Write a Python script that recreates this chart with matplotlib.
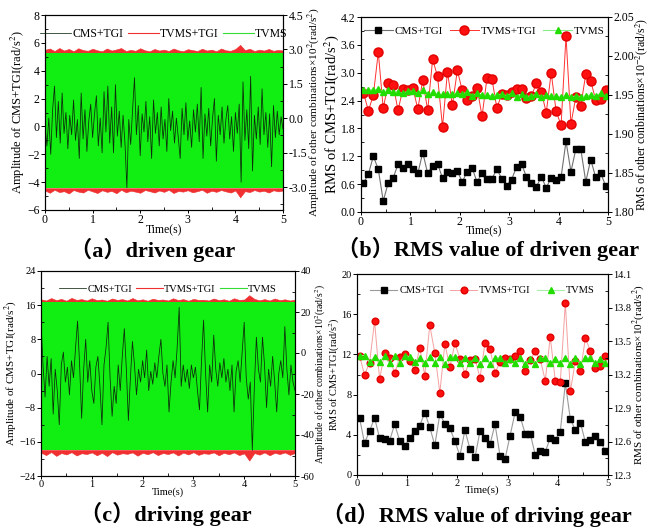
import matplotlib
matplotlib.use("Agg")
import matplotlib.pyplot as plt
import numpy as np
from matplotlib.lines import Line2D
from matplotlib.ticker import FormatStrFormatter, MultipleLocator

plt.rcParams["font.family"] = ["Liberation Serif", "Noto Sans CJK SC"]
plt.rcParams["mathtext.fontset"] = "stix"

W, H = 654, 528

# ---- (a) driven gear, time signal ----
black_a = [0.0, -1.4, 0.6, -2.0, 1.2, 2.9, -0.8, 1.8, -1.2, 2.4, -0.5, 1.0, -1.6, 0.8,
           -0.6, 1.9, -1.0, 0.5, -2.3, 2.4, -0.9, 1.2, -1.8, 0.4, 1.6, -0.8, 0.9, 2.2,
           -1.4, 0.6, -1.9, 2.5, -0.4, 2.9, -1.2, 1.4, -1.9, 3.0, -0.7, 1.1, -1.5, 0.8,
           -1.2, -4.4, 0.5, -1.3, 1.2, 3.5, -0.6, 1.5, -2.1, 0.9, -0.4, 1.8, -1.1, 0.7,
           -2.3, 1.9, -0.5, 1.0, -1.4, 1.4, -0.9, 0.5, -1.8, 2.0, -0.3, 1.1, -1.2, 0.6,
           -0.8, -2.3, 1.3, -0.6, 1.7, -1.0, 0.4, -1.5, 1.2, -0.4, 1.6, -1.1, 2.8, -2.3,
           0.9, -0.7, 1.3, -1.4, 0.6, 2.0, -2.5, 0.8, -0.6, 1.4, -1.2, 0.5, 1.5, -0.9,
           0.7, -1.8, 1.0, -0.5, 1.6, -4.0, 3.2, -1.0, 1.2, -1.6, 3.6, -3.2, 0.8, -0.9,
           1.4, -1.3, 2.7, -0.6, 1.0, -1.5, 0.9, -2.9, 1.5, -0.8, 1.1, -0.6, 0.7, -0.2]
green_band_a = [2.85, -3.05]
red_top_a = [2.98, 3.04, 2.93, 3.06, 2.95, 3.02, 2.92, 3.05, 2.97, 2.94, 3.03, 2.96, 2.92,
             3.04, 2.95, 3.00, 3.06, 2.93, 2.98, 2.94, 3.05, 2.96, 2.92, 3.02, 2.95, 2.99,
             2.93, 3.04, 2.96, 2.92, 3.01, 2.97, 2.93, 3.03, 2.95, 2.99, 2.92, 3.04, 2.96,
             2.94, 3.02, 3.20, 2.97, 3.03, 2.93, 2.99, 2.95, 3.02, 2.94, 2.98, 2.95]
red_bot_a = [-3.15, -3.25, -3.12, -3.22, -3.18, -3.28, -3.13, -3.20, -3.24, -3.12, -3.19,
             -3.26, -3.14, -3.21, -3.17, -3.27, -3.12, -3.23, -3.16, -3.20, -3.25, -3.13,
             -3.18, -3.24, -3.15, -3.21, -3.12, -3.26, -3.17, -3.20, -3.14, -3.23, -3.18,
             -3.12, -3.25, -3.16, -3.21, -3.13, -3.19, -3.24, -3.15, -3.45, -3.18, -3.22,
             -3.13, -3.20, -3.16, -3.24, -3.14, -3.19, -3.15]

# ---- (c) driving gear, time signal ----
black_c = [12.0, 2.0, -5.5, 4.0, -3.0, 3.5, -9.5, 1.0, -4.0, -12.0, 2.0, 5.0, -2.0, 1.5,
           -5.0, 3.0, -1.0, 6.0, 12.3, 2.0, -10.5, 1.0, 8.0, -2.0, 3.0, -4.0, -7.0, 1.5,
           4.0, -3.0, -12.0, 2.0, 6.0, 12.0, -1.0, -10.0, -3.0, -7.0, 2.0, -4.0, 4.0, 10.5,
           1.0, -11.0, -1.0, 7.5, 2.0, -5.0, 1.0, -2.0, 3.0, -1.0, 5.5, -4.0, 0.5, -2.5,
           2.5, -1.0, 4.0, 8.0, 0.0, -3.0, 2.0, -9.0, -2.0, 3.0, -1.0, 6.0, 15.5, -3.0,
           2.0, -2.0, 1.0, -3.5, 2.0, -1.0, 1.5, -4.0, -8.5, 3.0, 12.5, 0.0, -9.0, 2.0,
           -2.0, 9.0, 1.0, -3.0, 2.5, -1.0, 3.5, -2.0, 1.0, -4.0, 2.0, -9.0, 0.5, 3.0,
           -2.0, 5.0, 12.0, -1.0, -6.0, -2.0, -18.0, -3.0, 8.5, 1.0, -2.0, 8.5, 2.0, -8.0,
           1.0, -3.0, 4.0, -2.0, -9.0, 0.0, 3.0, -1.0, 11.0, 1.0, -5.0, 2.0, -2.0, -4.0]
green_band_c = [24.8, -47.3]
red_top_c = [26.2, 25.6, 26.8, 25.8, 26.4, 25.5, 26.9, 25.9, 26.3, 25.6, 26.7, 25.8, 26.1,
             25.5, 26.6, 25.9, 26.3, 25.6, 26.8, 25.7, 26.2, 25.5, 26.5, 25.9, 26.1, 25.6,
             26.7, 25.8, 26.3, 25.5, 26.4, 25.9, 26.0, 25.6, 26.6, 25.8, 26.2, 25.5, 26.7,
             25.9, 26.1, 28.2, 26.4, 25.7, 26.3, 25.6, 26.6, 25.8, 26.2, 25.6, 26.0]
red_bot_c = [-48.6, -49.8, -48.3, -50.2, -48.8, -49.5, -48.4, -50.0, -48.9, -49.3, -48.5,
             -49.9, -48.7, -50.3, -48.4, -49.6, -48.9, -49.2, -48.5, -50.1, -48.7, -49.4,
             -48.4, -49.8, -48.8, -49.3, -48.5, -50.0, -48.6, -49.5, -48.4, -49.7, -48.9,
             -49.2, -48.5, -49.9, -48.7, -49.4, -48.5, -49.8, -49.0, -52.5, -48.8, -49.6,
             -48.5, -49.9, -48.7, -49.3, -48.5, -49.7, -48.8]

# ---- (b) RMS driven gear ----
t_rms = np.arange(0.05, 5.0, 0.1)
rms_cms_b = [0.62, 0.82, 1.20, 0.92, 0.24, 0.62, 0.73, 1.03, 0.95, 1.04, 0.92, 0.83, 1.28,
             0.83, 1.00, 1.04, 0.73, 0.87, 0.83, 0.88, 0.65, 0.87, 0.95, 0.64, 0.85, 0.71,
             0.72, 0.92, 0.72, 0.57, 0.70, 0.98, 1.04, 0.75, 0.62, 0.54, 0.76, 0.52, 0.74,
             0.68, 0.75, 1.52, 0.87, 1.36, 1.35, 0.65, 1.13, 0.75, 0.84, 0.57]
rms_tvms_tgi_b = [2.57, 2.18, 2.52, 3.44, 2.23, 2.77, 2.74, 2.19, 2.66, 2.63, 2.67, 2.22,
                  2.84, 2.19, 3.29, 2.92, 1.83, 3.02, 2.30, 3.05, 2.62, 2.41, 2.49, 2.68,
                  2.06, 2.88, 2.87, 2.24, 2.54, 2.52, 2.59, 2.66, 2.64, 2.45, 2.49, 2.78,
                  2.59, 2.14, 3.00, 2.17, 1.87, 3.79, 1.90, 2.48, 2.29, 2.97, 2.82, 2.42,
                  2.43, 2.62]
rms_tvms_b = [1.956, 1.957, 1.956, 1.958, 1.954, 1.956, 1.954, 1.954, 1.952, 1.955, 1.955,
              1.952, 1.956, 1.951, 1.954, 1.951, 1.951, 1.951, 1.951, 1.952, 1.951, 1.954,
              1.949, 1.952, 1.950, 1.950, 1.949, 1.950, 1.951, 1.949, 1.952, 1.948, 1.951,
              1.948, 1.949, 1.951, 1.948, 1.950, 1.949, 1.949, 1.947, 1.950, 1.947, 1.949,
              1.948, 1.949, 1.950, 1.949, 1.952, 1.949]

# ---- (d) RMS driving gear ----
rms_cms_d = [5.71, 3.16, 4.39, 5.68, 3.69, 3.59, 3.42, 5.05, 3.42, 2.86, 3.72, 4.42, 4.92,
             6.21, 4.75, 2.96, 6.05, 5.12, 4.65, 3.36, 1.93, 4.45, 2.62, 1.76, 4.35, 3.72,
             3.06, 5.05, 1.89, 1.63, 3.92, 6.25, 5.81, 4.12, 4.12, 2.03, 2.36, 2.33, 3.65,
             3.52, 4.32, 9.14, 5.55, 4.49, 5.22, 3.26, 3.49, 3.89, 3.32, 2.39]
rms_tvms_tgi_d = [11.86, 9.97, 11.16, 15.28, 9.53, 12.16, 11.69, 10.10, 11.73, 12.06, 11.36,
                  10.40, 12.66, 9.90, 14.92, 12.13, 8.17, 13.06, 10.70, 13.12, 11.59, 10.07,
                  11.43, 11.59, 9.67, 13.16, 12.56, 10.17, 11.23, 11.66, 11.50, 11.89, 12.29,
                  10.37, 11.43, 12.29, 11.50, 9.40, 13.72, 9.40, 9.27, 17.11, 8.31, 11.33,
                  10.33, 13.62, 12.33, 10.60, 10.80, 11.83]
rms_tvms_d = [13.37, 13.37, 13.31, 13.36, 13.31, 13.37, 13.30, 13.37, 13.30, 13.37, 13.36,
              13.31, 13.35, 13.30, 13.36, 13.30, 13.36, 13.29, 13.36, 13.36, 13.30, 13.35,
              13.30, 13.35, 13.29, 13.35, 13.29, 13.35, 13.35, 13.30, 13.34, 13.30, 13.35,
              13.29, 13.34, 13.29, 13.35, 13.35, 13.30, 13.34, 13.30, 13.35, 13.29, 13.35,
              13.29, 13.35, 13.35, 13.30, 13.34, 13.30]

series_names = ["CMS+TGI", "TVMS+TGI", "TVMS"]
captions = ["（a）driven gear", "（b）RMS value of driven gear",
            "（c）driving gear", "（d）RMS value of driving gear"]


def px_rect(left, top, right, bottom):
    return [left / W, 1 - bottom / H, (right - left) / W, (bottom - top) / H]


def style_ticks(ax, fs):
    ax.tick_params(which="major", direction="out", length=3, width=0.7,
                   labelsize=fs, pad=1)
    ax.tick_params(which="minor", direction="in", length=2, width=0.6)
    ax.tick_params(axis="x", which="major", length=2.5, pad=0.5)
    for s in ax.spines.values():
        s.set_linewidth(0.8)


def amplitude_panel(fig, rect, black, red_top, red_bot, green_band, ylim_l, step_l,
                    ylim_r, step_r, fmt_r, lab_l, lab_r, fs_tick, fs_lab, fs_lab_r,
                    pad_r, leg_y):
    ax = fig.add_axes(rect)
    ax2 = ax.twinx()
    ax.set_zorder(ax2.get_zorder() + 1)
    ax.patch.set_visible(False)

    t_top = np.linspace(0, 5, len(red_top))
    t_bot = np.linspace(0, 5, len(red_bot))
    ax2.fill_between(t_top, green_band[0], red_top, color="#f03030", lw=0.4)
    ax2.fill_between(t_bot, red_bot, green_band[1], color="#f03030", lw=0.4)
    ax2.fill_between([0, 5], green_band[1], green_band[0], color="#11ee11", lw=0)

    t = np.linspace(0, 5, len(black))
    hb, = ax.plot(t, black, color="#0d2a0d", lw=0.55)

    ax.set_xlim(0, 5)
    ax.set_ylim(*ylim_l)
    ax.yaxis.set_major_locator(MultipleLocator(step_l))
    ax.yaxis.set_minor_locator(MultipleLocator(step_l / 2))
    ax.xaxis.set_major_locator(MultipleLocator(1))
    ax.xaxis.set_minor_locator(MultipleLocator(0.5))
    ax2.set_ylim(*ylim_r)
    ax2.yaxis.set_major_locator(MultipleLocator(step_r))
    ax2.yaxis.set_minor_locator(MultipleLocator(step_r / 2))
    ax2.yaxis.set_major_formatter(FormatStrFormatter(fmt_r))
    style_ticks(ax, fs_tick)
    style_ticks(ax2, fs_tick)

    ax.set_xlabel("Time(s)", fontsize=fs_lab - 0.5, labelpad=-1.5)
    ax.set_ylabel(lab_l, fontsize=fs_lab, labelpad=0)
    ax2.set_ylabel(lab_r, fontsize=fs_lab_r, labelpad=pad_r)

    hr = Line2D([], [], color="#f03030", lw=0.8)
    hg = Line2D([], [], color="#33dd33", lw=0.8)
    ax.legend([hb, hr, hg], series_names, loc="upper center", bbox_to_anchor=(0.5, leg_y),
              ncol=3, frameon=False, fontsize=fs_lab - 0.5, handlelength=2.6,
              handletextpad=0.1, columnspacing=0.4, borderaxespad=0)
    return ax, ax2


def rms_panel(fig, rect, cms, tvms_tgi, tvms, ylim_l, step_l, fmt_l, ylim_r, step_r,
              fmt_r, lab_r, fs_tick, fs_lab_l, fs_lab_r, pad_l, colors, msizes, leg_y):
    ax = fig.add_axes(rect)
    ax2 = ax.twinx()
    h1, = ax.plot(t_rms, cms, color=colors[0], lw=0.8, marker="s", ms=msizes[0],
                  mfc="black", mec="black")
    h2, = ax.plot(t_rms, tvms_tgi, color=colors[1], lw=0.7, marker="o", ms=msizes[1],
                  mfc="#ff1010", mec="#e00000")
    h3, = ax2.plot(t_rms, tvms, color=colors[2], lw=0.8, marker="^", ms=msizes[2],
                   mfc="#22dd00", mec="#22dd00")

    ax.set_xlim(0, 5)
    ax.set_ylim(*ylim_l)
    ax.yaxis.set_major_locator(MultipleLocator(step_l))
    ax.yaxis.set_minor_locator(MultipleLocator(step_l / 2))
    ax.yaxis.set_major_formatter(FormatStrFormatter(fmt_l))
    ax.xaxis.set_major_locator(MultipleLocator(1))
    ax.xaxis.set_minor_locator(MultipleLocator(0.5))
    ax2.set_ylim(*ylim_r)
    ax2.yaxis.set_major_locator(MultipleLocator(step_r))
    ax2.yaxis.set_minor_locator(MultipleLocator(step_r / 2))
    ax2.yaxis.set_major_formatter(FormatStrFormatter(fmt_r))
    style_ticks(ax, fs_tick)
    style_ticks(ax2, fs_tick)

    ax.set_xlabel("Time(s)", fontsize=fs_lab_r, labelpad=-2)
    ax.set_ylabel("RMS of CMS+TGI(rad/s$^2$)", fontsize=fs_lab_l, labelpad=pad_l)
    ax2.set_ylabel(lab_r, fontsize=fs_lab_r, labelpad=-1)

    ax.legend([h1, h2, h3], series_names, loc="upper center", bbox_to_anchor=(0.5, leg_y),
              ncol=3, frameon=False, fontsize=fs_lab_r - 0.5, handlelength=2.6,
              handletextpad=0.2, columnspacing=0.6, borderaxespad=0)
    return ax, ax2


fig = plt.figure(figsize=(W / 100, H / 100), dpi=100)

amplitude_panel(fig, px_rect(45, 15, 283, 210), black_a, red_top_a, red_bot_a, green_band_a,
                (-6, 8), 2, (-4.0, 4.5), 1.5, "%.1f",
                "Amplitude of CMS+TGI(rad/s$^2$)",
                "Amplitude of other combinations×10$^2$(rad/s$^2$)",
                8.5, 9, 8.2, -1, 0.955)

rms_panel(fig, px_rect(361, 17, 608, 212), rms_cms_b, rms_tvms_tgi_b, rms_tvms_b,
          (0, 4.2), 0.6, "%.1f", (1.80, 2.05), 0.05, "%.2f",
          "RMS of other conbinations×10$^{-2}$(rad/s$^2$)",
          8.5, 10.5, 8.5, 0, ["#707070", "#ff3030", "#88ee88"], [4.3, 6.5, 5], 0.975)

amplitude_panel(fig, px_rect(41, 271, 295, 476), black_c, red_top_c, red_bot_c, green_band_c,
                (-24, 24), 8, (-60, 40), 20, "%d",
                "Amplitude of CMS+TGI(rad/s$^2$)",
                "Amplitude of other combinations×10$^2$(rad/s$^2$)",
                7.5, 8, 7, -0.5, 0.955)

rms_panel(fig, px_rect(357, 274, 608, 475), rms_cms_d, rms_tvms_tgi_d, rms_tvms_d,
          (0, 20), 4, "%d", (12.3, 14.1), 0.3, "%.1f",
          "RMS of other combinations×10$^2$(rad/s$^2$)",
          7.5, 7.5, 8, -1, ["#9a9a9a", "#f4a0a0", "#aaeeaa"], [5, 4.8, 5], 0.96)

cap_pos = [(153, 250), (488, 249), (166, 514), (477, 515)]
for text, (x, y) in zip(captions, cap_pos):
    fig.text(x / W, 1 - y / H, text, ha="center", va="center", fontsize=16,
             fontweight="bold")

fig.savefig("out.png", dpi=100)
